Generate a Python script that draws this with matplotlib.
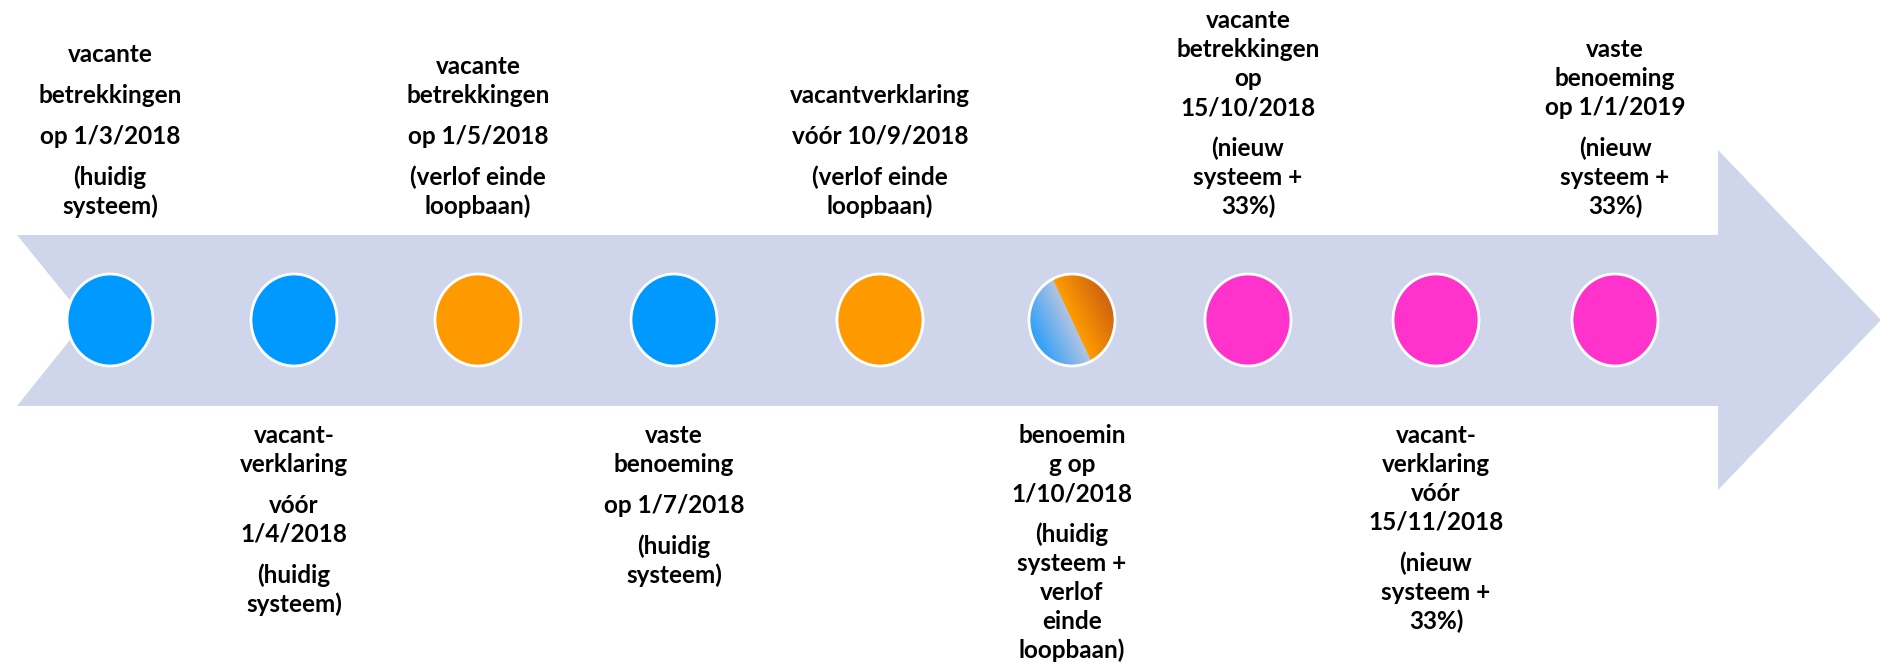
import numpy as np
import matplotlib.pyplot as plt
from matplotlib.patches import Polygon, Ellipse

# Milestones along the timeline arrow
stages = ["huidig", "huidig", "verlof", "huidig", "verlof", "mix", "nieuw", "nieuw", "nieuw"]
sides = ["top", "bottom", "top", "bottom", "top", "bottom", "top", "bottom", "top"]
labels = [
    ["vacante", "betrekkingen", "op 1/3/2018", "(huidig\nsysteem)"],
    ["vacant-\nverklaring", "vóór\n1/4/2018", "(huidig\nsysteem)"],
    ["vacante\nbetrekkingen", "op 1/5/2018", "(verlof einde\nloopbaan)"],
    ["vaste\nbenoeming", "op 1/7/2018", "(huidig\nsysteem)"],
    ["vacantverklaring", "vóór 10/9/2018", "(verlof einde\nloopbaan)"],
    ["benoemin\ng op\n1/10/2018", "(huidig\nsysteem +\nverlof\neinde\nloopbaan)"],
    ["vacante\nbetrekkingen\nop\n15/10/2018", "(nieuw\nsysteem +\n33%)"],
    ["vacant-\nverklaring\nvóór\n15/11/2018", "(nieuw\nsysteem +\n33%)"],
    ["vaste\nbenoeming\nop 1/1/2019", "(nieuw\nsysteem +\n33%)"],
]

# Layout (pixels)
W, H = 1881, 663
X_POS = [110, 294, 478, 674, 880, 1072, 1248, 1436, 1615]
CY = 320
CW, CH = 86, 92
LINE = 29
PARA_GAP = 12

colors = {"huidig": "#0099FF", "verlof": "#FF9900", "nieuw": "#FF33CC"}
arrow_color = "#CFD5EA"
font = dict(family=["Lato", "DejaVu Sans"], weight="bold", size=17.5, color="black")

fig = plt.figure(figsize=(W / 100, H / 100), dpi=100)
ax = fig.add_axes([0, 0, 1, 1])

# Arrow shape
arrow = Polygon([(17, 235), (1718, 235), (1718, 150), (1881, 320),
                 (1718, 490), (1718, 406), (17, 406), (86, 320)],
                closed=True, facecolor=arrow_color, edgecolor="none", zorder=1)
ax.add_patch(arrow)


def mixed_image(w, h):
    # blue half on the left, orange half on the right, split by a tilted line
    xs = np.linspace(-w / 2, w / 2, 120)
    ys = np.linspace(-h / 2, h / 2, 120)
    xx, yy = np.meshgrid(xs, ys)
    d = (xx - 0.47 * yy) / (w / 2)
    img = np.zeros((len(ys), len(xs), 3))
    blue_a = np.array([0x38, 0xA2, 0xF6]) / 255
    blue_b = np.array([0xB2, 0xC4, 0xE2]) / 255
    orange_a = np.array([0xFF, 0x9C, 0x00]) / 255
    orange_b = np.array([0xD2, 0x68, 0x0E]) / 255
    left = d < 0
    t_left = np.clip(1 + d, 0, 1)
    t_right = np.clip(d, 0, 1)
    for c in range(3):
        img[..., c] = np.where(left,
                               blue_a[c] + (blue_b[c] - blue_a[c]) * t_left,
                               orange_a[c] + (orange_b[c] - orange_a[c]) * t_right)
    return img


for x, stage in zip(X_POS, stages):
    if stage == "mix":
        ell = Ellipse((x, CY), CW, CH, facecolor="none", edgecolor="none", zorder=2)
        ax.add_patch(ell)
        im = ax.imshow(mixed_image(CW, CH), extent=(x - CW / 2, x + CW / 2, CY + CH / 2, CY - CH / 2),
                       origin="upper", aspect="auto", zorder=2, interpolation="bilinear")
        im.set_clip_path(ell)
        ax.add_patch(Ellipse((x, CY), CW, CH, facecolor="none", edgecolor="white",
                             linewidth=2, zorder=3))
    else:
        ax.add_patch(Ellipse((x, CY), CW, CH, facecolor=colors[stage], edgecolor="white",
                             linewidth=2, zorder=2))

# Labels above / below the arrow
for x, side, paras in zip(X_POS, sides, labels):
    lines = []
    for i, p in enumerate(paras):
        for j, ln in enumerate(p.split("\n")):
            lines.append((ln, i > 0 and j == 0))
    if side == "top":
        y = 205
        for ln, new_para in reversed(lines):
            ax.text(x, y + 9, ln, ha="center", va="baseline", zorder=4, **font)
            y -= LINE
            if new_para:
                y -= PARA_GAP
    else:
        y = 434
        for ln, new_para in lines:
            if new_para:
                y += PARA_GAP
            ax.text(x, y + 9, ln, ha="center", va="baseline", zorder=4, **font)
            y += LINE

ax.set_xlim(0, W)
ax.set_ylim(H, 0)
ax.axis("off")
fig.savefig("out.png", dpi=100)
